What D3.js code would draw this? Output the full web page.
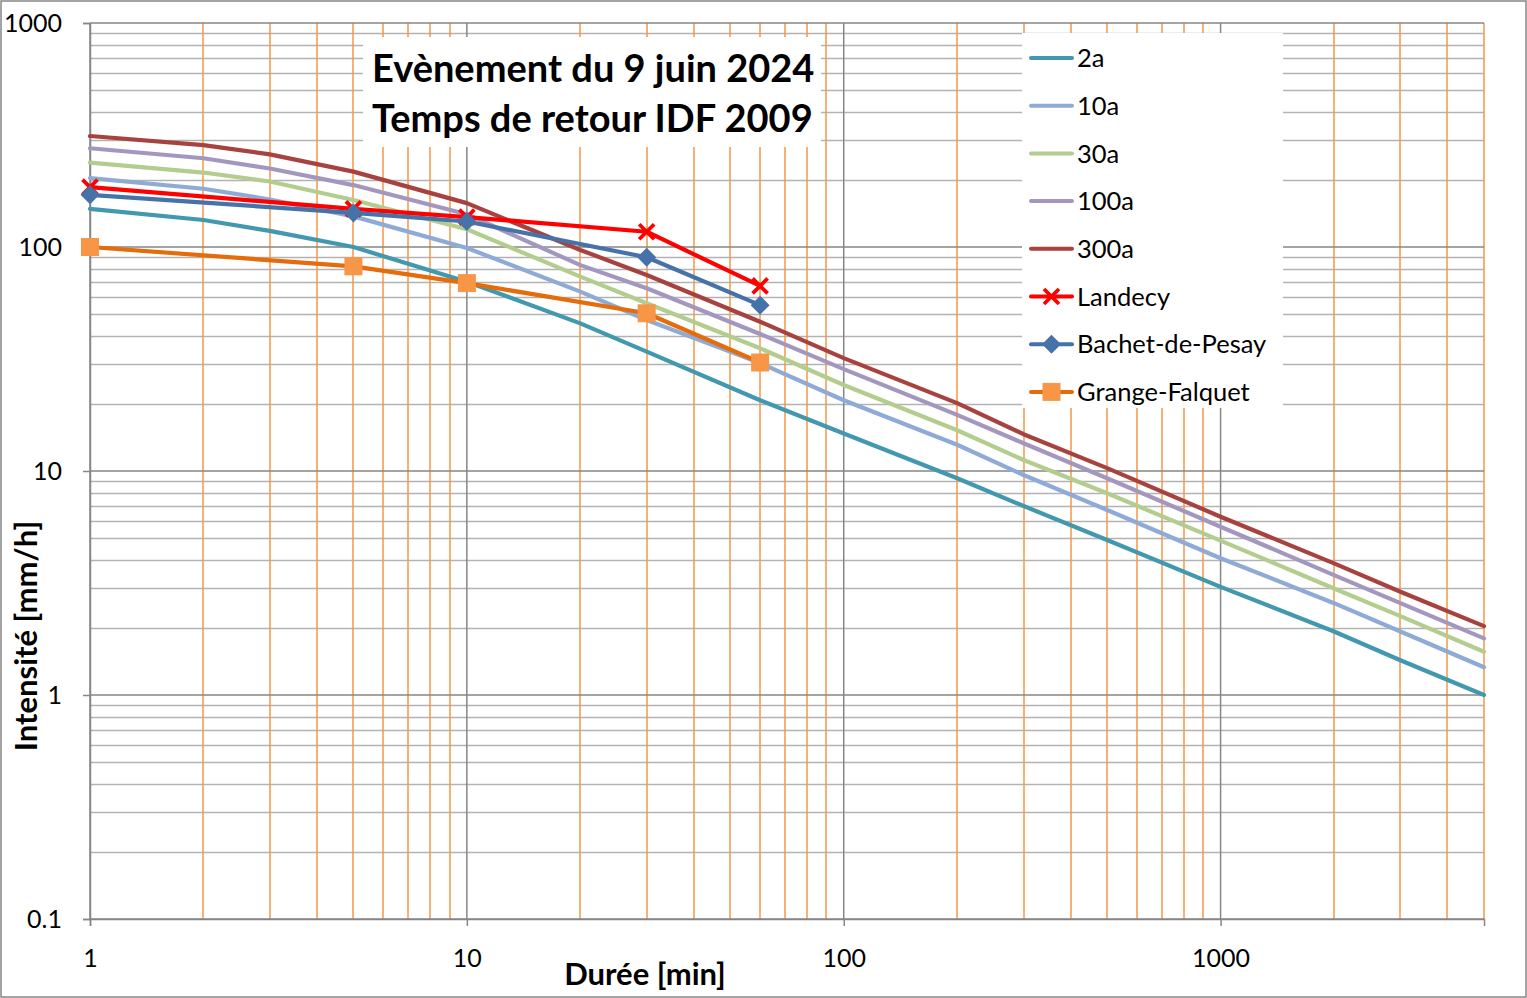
<!DOCTYPE html>
<html><head><meta charset="utf-8">
<script src="https://cdn.jsdelivr.net/npm/d3@7"></script>
<style>body{margin:0;background:#fff}</style>
</head><body><svg id="c" width="1527" height="998"></svg>
<script>
const durations = [1,2,3,5,10,20,30,60,100,200,300,500,1000,2000,3000,5000];
const idf2a   = [148,132,118,100,70,45.6,34.1,20.7,14.7,9.28,6.98,4.92,3.04,1.92,1.43,1.0];
const idf10a  = [203,182,163,137,99,63.2,47.2,30.3,20.7,13.1,9.6,6.7,4.08,2.57,1.92,1.33];
const idf30a  = [238,215,196,162,120,73.7,56.1,35.3,24.2,15.2,11.2,7.95,4.89,2.99,2.25,1.56];
const idf100a = [276,249,224,189,140,83,65.4,40.9,28.5,17.8,13.3,9.28,5.64,3.43,2.57,1.79];
const idf300a = [313,285,259,217,157,97,75,46.4,31.9,20.1,14.6,10.3,6.25,3.87,2.89,2.03];
const eventDurations = [1,5,10,30,60];
const landecy = [185,148,136,117,67];
const bachet  = [171,142,130,90,55];
const grange  = [100,82,69,50.6,30.5];
const seriesNames = ["2a","10a","30a","100a","300a","Landecy","Bachet-de-Pesay","Grange-Falquet"];
const xTickValues = [1,10,100,1000];
const xTickLabels = ["1","10","100","1000"];
const yTickValues = [0.1,1,10,100,1000];
const yTickLabels = ["0.1","1","10","100","1000"];
const titleLines = ["Evènement du 9 juin 2024","Temps de retour IDF 2009"];
const xTitle = "Durée [min]";
const yTitle = "Intensité [mm/h]";

const W = 1527, H = 998;
const L = 90, R = 1484, T = 23, B = 919;
const FONT = "Lato, 'Open Sans', 'Liberation Sans', sans-serif";
const svg = d3.select("#c");
const x = d3.scaleLog().domain([1,5000]).range([L,R]);
const y = d3.scaleLog().domain([0.1,1000]).range([B,T]);

svg.append("rect").attr("x",0).attr("y",0).attr("width",W).attr("height",H).attr("fill","#fff");
svg.append("rect").attr("x",1).attr("y",1).attr("width",W-2).attr("height",H-2)
  .attr("fill","none").attr("stroke","#868686").attr("stroke-width",1.5);

// minor grid
const xMinor = [], yMinor = [];
[1,10,100,1000].forEach(d => { for (let k=2;k<=9;k++) if (d*k<=5000) xMinor.push(d*k); });
[0.1,1,10,100].forEach(d => { for (let k=2;k<=9;k++) yMinor.push(+(d*k).toPrecision(3)); });
const g = svg.append("g");
g.selectAll(".hm").data(yMinor).join("line")
  .attr("x1",L).attr("x2",R).attr("y1",d=>Math.round(y(d))+0.5).attr("y2",d=>Math.round(y(d))+0.5)
  .attr("stroke","#b3b3b3").attr("stroke-width",1.5);
g.selectAll(".vm").data(xMinor).join("line")
  .attr("y1",T).attr("y2",B).attr("x1",d=>Math.round(x(d))).attr("x2",d=>Math.round(x(d)))
  .attr("stroke","#f79646").attr("stroke-width",1.5);
g.selectAll(".hM").data(yTickValues).join("line")
  .attr("x1",L).attr("x2",R).attr("y1",d=>y(d)).attr("y2",d=>y(d))
  .attr("stroke","#868686").attr("stroke-width",1.5);
g.selectAll(".vM").data(xTickValues).join("line")
  .attr("y1",T).attr("y2",B).attr("x1",d=>x(d)).attr("x2",d=>x(d))
  .attr("stroke","#868686").attr("stroke-width",1.5);

// axes
const xAxis = d3.axisBottom(x).tickValues(xTickValues).tickFormat((d,i)=>xTickLabels[i]).tickSize(7).tickPadding(23);
const yAxis = d3.axisLeft(y).tickValues(yTickValues).tickFormat((d,i)=>yTickLabels[i]).tickSize(7).tickPadding(21);
const gx = svg.append("g").attr("transform",`translate(0,${B})`).call(xAxis);
const gy = svg.append("g").attr("transform",`translate(${L},0)`).call(yAxis);
[gx,gy].forEach(a=>{
  a.select(".domain").attr("stroke","#868686").attr("stroke-width",1.5);
  a.selectAll(".tick line").attr("stroke","#868686").attr("stroke-width",1.5);
  a.selectAll(".tick text").attr("font-family",FONT).attr("font-size",25).attr("fill","#000");
});
gy.selectAll(".tick text").attr("dy","0.35em").attr("x",-28);

// title box
svg.append("rect").attr("x",363).attr("y",37).attr("width",458).attr("height",110).attr("fill","#fff");
svg.append("g").selectAll("text").data(titleLines).join("text")
  .attr("x",372).attr("y",(d,i)=>82+i*50)
  .attr("font-family",FONT).attr("font-weight","bold").attr("font-size",38).attr("fill","#000")
  .text(d=>d);

// legend box
svg.append("rect").attr("x",1022).attr("y",33).attr("width",261).attr("height",375).attr("fill","#fff");

// series
const lineGen = d3.line().x(d=>x(d[0])).y(d=>y(d[1]));
const idfSeries = [
  {name:seriesNames[0], vals:idf2a,   color:"#4198af"},
  {name:seriesNames[1], vals:idf10a,  color:"#8eaad6"},
  {name:seriesNames[2], vals:idf30a,  color:"#b3cd8e"},
  {name:seriesNames[3], vals:idf100a, color:"#a497bf"},
  {name:seriesNames[4], vals:idf300a, color:"#a8423f"}
];
const evSeries = [
  {name:seriesNames[5], vals:landecy, color:"#ff0000", mcolor:"#ff0000", marker:"x"},
  {name:seriesNames[6], vals:bachet,  color:"#4672aa", mcolor:"#4672aa", marker:"diamond"},
  {name:seriesNames[7], vals:grange,  color:"#e46c0a", mcolor:"#f79646", marker:"square"}
];
const dg = svg.append("g");
idfSeries.forEach(s=>{
  dg.append("path").datum(durations.map((d,i)=>[d,s.vals[i]]))
    .attr("d",lineGen).attr("fill","none").attr("stroke",s.color).attr("stroke-width",4.2)
    .attr("stroke-linejoin","round").attr("stroke-linecap","round");
});
function drawMarker(sel, type, cx, cy, color){
  if (type==="x"){
    const r=7.5;
    sel.append("path").attr("d",`M${cx-r},${cy-r}L${cx+r},${cy+r}M${cx-r},${cy+r}L${cx+r},${cy-r}`)
      .attr("stroke",color).attr("stroke-width",3.8).attr("fill","none");
  } else if (type==="diamond"){
    const r=9.5;
    sel.append("path").attr("d",`M${cx},${cy-r}L${cx+r},${cy}L${cx},${cy+r}L${cx-r},${cy}Z`).attr("fill",color);
  } else {
    const r=9;
    sel.append("rect").attr("x",cx-r).attr("y",cy-r).attr("width",2*r).attr("height",2*r).attr("fill",color);
  }
}
evSeries.forEach(s=>{
  const pts = eventDurations.map((d,i)=>[d,s.vals[i]]);
  dg.append("path").datum(pts).attr("d",lineGen).attr("fill","none").attr("stroke",s.color)
    .attr("stroke-width",4.2).attr("stroke-linejoin","round");
  pts.forEach(p=>drawMarker(dg, s.marker, x(p[0]), y(p[1]), s.mcolor));
});

// legend
const lg = svg.append("g");
const all = idfSeries.concat(evSeries);
all.forEach((s,i)=>{
  const cy = 58 + i*47.7;
  lg.append("line").attr("x1",1031).attr("x2",1072).attr("y1",cy).attr("y2",cy)
    .attr("stroke",s.color).attr("stroke-width",4).attr("stroke-linecap","round");
  if (s.marker) drawMarker(lg, s.marker, 1051.5, cy, s.mcolor);
  lg.append("text").attr("x",1077).attr("y",cy).attr("dy","0.36em")
    .attr("font-family",FONT).attr("font-size",25.5).attr("fill","#000").text(s.name);
});

// axis titles
svg.append("text").attr("x",645).attr("y",985).attr("text-anchor","middle")
  .attr("font-family",FONT).attr("font-weight","bold").attr("font-size",31).attr("fill","#000").text(xTitle);
svg.append("text").attr("transform","translate(37,636) rotate(-90)").attr("text-anchor","middle")
  .attr("font-family",FONT).attr("font-weight","bold").attr("font-size",31).attr("fill","#000").text(yTitle);
</script></body></html>
